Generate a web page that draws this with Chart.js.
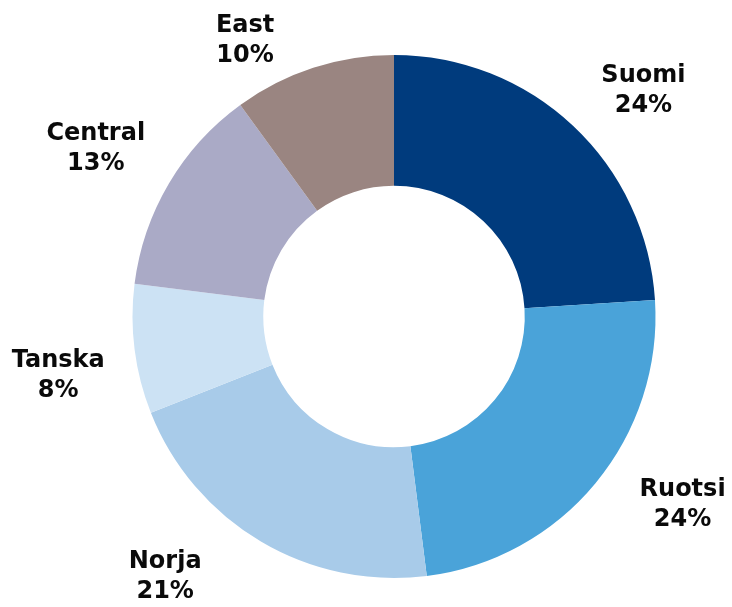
<!DOCTYPE html>
<html>
<head>
<meta charset="utf-8">
<script src="https://cdn.jsdelivr.net/npm/chart.js@4"></script>
<style>
  html, body { margin: 0; padding: 0; background: #fff; }
  #wrap { width: 732px; height: 607px; }
</style>
</head>
<body>
<div id="wrap"><canvas id="donut"></canvas></div>
<script>
// data
const regions = ['Suomi', 'Ruotsi', 'Norja', 'Tanska', 'Central', 'East'];
const shares = [24, 24, 21, 8, 13, 10];
const sliceColors = ['#003B7D', '#4AA3D9', '#A8CBE9', '#CCE2F4', '#AAAAC6', '#9A8581'];

// small nudges for the outside labels (px), in slice order
const labelNudge = [[17, 22], [27, -28], [-56, -32], [1, 17], [-6, 5], [-44, 47]];

const outsideLabels = {
    id: 'outsideLabels',
    afterDatasetsDraw(chart) {
        const ctx = chart.ctx;
        const meta = chart.getDatasetMeta(0);
        ctx.save();
        ctx.font = 'bold 24px "DejaVu Sans", Verdana, sans-serif';
        ctx.fillStyle = '#0a0a0a';
        ctx.textAlign = 'center';
        ctx.textBaseline = 'middle';
        meta.data.forEach(function (arc, i) {
            const p = arc.getProps(['x', 'y', 'startAngle', 'endAngle', 'outerRadius'], true);
            const mid = (p.startAngle + p.endAngle) / 2;
            const r = p.outerRadius + 78;
            const x = p.x + Math.cos(mid) * r + labelNudge[i][0];
            const y = p.y + Math.sin(mid) * r + labelNudge[i][1];
            ctx.fillText(regions[i], x, y - 15);
            ctx.fillText(shares[i] + '%', x, y + 15);
        });
        ctx.restore();
    }
};

new Chart(document.getElementById('donut').getContext('2d'), {
    type: 'doughnut',
    data: {
        labels: regions,
        datasets: [{
            data: shares,
            backgroundColor: sliceColors,
            borderWidth: 0
        }]
    },
    options: {
        responsive: true,
        maintainAspectRatio: false,
        animation: false,
        cutout: '50%',
        layout: {
            padding: { top: 55, bottom: 29, left: 132, right: 76 }
        },
        plugins: {
            legend: { display: false },
            tooltip: { enabled: false }
        }
    },
    plugins: [outsideLabels]
});
</script>
</body>
</html>
